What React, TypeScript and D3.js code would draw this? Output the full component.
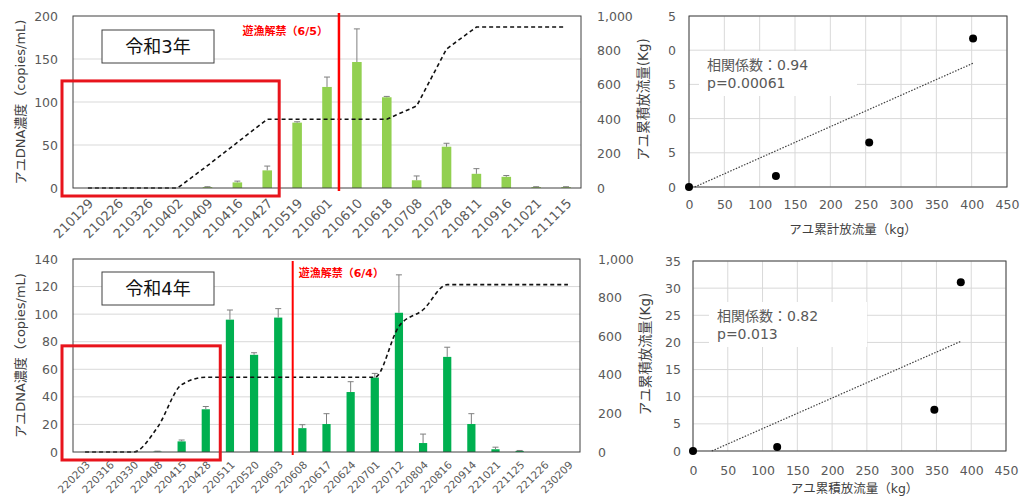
import React, { useRef, useEffect } from 'react';
import * as d3 from 'd3';

const FONT = '"DejaVu Sans", "Noto Sans CJK JP", sans-serif';
const TICK = '#595959';

// 令和3年
const r3Dates = ['210129', '210226', '210326', '210402', '210409', '210416', '210427', '210519', '210601',
  '210610', '210618', '210708', '210728', '210811', '210916', '211021', '211115'];
const r3Dna = [0, 0, 0, 0, 1, 6.5, 20.5, 76, 117.5, 146.5, 105.5, 9, 48, 16.5, 13, 1, 1];
const r3Err = [0, 0, 0, 0, 0.5, 1.5, 5, 1, 11.5, 38.5, 1, 5, 4, 6, 1.5, 0.5, 0.5];
const r3Release = [0, 0, 0, 0, 130, 265, 400, 400, 400, 400, 400, 477, 808, 936, 936, 936, 936];

// 令和4年
const r4Dates = ['220203', '220316', '220330', '220408', '220415', '220428', '220511', '220520', '220603',
  '220608', '220617', '220624', '220701', '220712', '220804', '220816', '220914', '221021', '221125',
  '221226', '230209'];
const r4Dna = [0, 0, 0, 0.3, 7.7, 31, 96, 70.5, 97.5, 17.3, 20.3, 43.5, 54, 101, 6.5, 69, 20.3, 2, 0.8, 0, 0];
const r4Err = [0, 0, 0, 0.3, 1, 2, 7, 1.5, 6.5, 2.5, 7.5, 7.5, 3, 27.5, 6.5, 7, 7.5, 1.5, 0.3, 0, 0];
const r4Release = [0, 0, 0, 128, 349, 387, 387, 387, 387, 387, 387, 387, 387, 651, 737, 867, 867, 867, 867, 867, 867];

const dnaTicks3 = [0, 50, 100, 150, 200];
const dnaTicks4 = [0, 20, 40, 60, 80, 100, 120, 140];
const releaseTicks = [0, 200, 400, 600, 800, 1000];

// 散布図
const s3X = [0, 123, 255, 402];
const s3Y = [0, 1.6, 6.5, 21.7];
const s3TrendX = [8, 402];
const s3TrendY = [0, 18.1];
const s4X = [0, 121, 347, 385];
const s4Y = [0, 0.75, 7.6, 31.1];
const s4TrendX = [27, 385];
const s4TrendY = [0, 20.2];
const scatterXTicks = [0, 50, 100, 150, 200, 250, 300, 350, 400, 450];
const scatterYTicks3 = [0, 5, 10, 15, 20, 25];
const scatterYTicks4 = [0, 5, 10, 15, 20, 25, 30, 35];

function drawCombo(svg: any, o: any) {
  const g = svg.append('g').attr('transform', `translate(${o.left},${o.top})`);
  const x = d3.scaleBand<string>().domain(o.dates).range([0, o.width]);
  const y = d3.scaleLinear().domain([0, o.dnaTicks[o.dnaTicks.length - 1]]).range([o.height, 0]);
  const y2 = d3.scaleLinear().domain([0, 1000]).range([o.height, 0]);
  const cx = (d: string) => (x(d) as number) + x.bandwidth() / 2;

  g.selectAll('.grid').data(o.dnaTicks.slice(1, -1)).enter().append('line')
    .attr('x1', 0).attr('x2', o.width)
    .attr('y1', (d: number) => y(d)).attr('y2', (d: number) => y(d))
    .attr('stroke', '#d9d9d9').attr('stroke-width', 1);

  const bw = x.bandwidth() * o.barRatio;
  g.selectAll('.bar').data(o.dates).enter().append('rect')
    .attr('x', (d: string) => cx(d) - bw / 2)
    .attr('y', (d: string, i: number) => y(o.dna[i]))
    .attr('width', bw)
    .attr('height', (d: string, i: number) => y(0) - y(o.dna[i]))
    .attr('fill', o.barColor);

  // エラーバー
  o.dates.forEach((d: string, i: number) => {
    if (!o.err[i]) return;
    const top = y(o.dna[i] + o.err[i]);
    g.append('line').attr('x1', cx(d)).attr('x2', cx(d))
      .attr('y1', y(o.dna[i])).attr('y2', top).attr('stroke', '#7f7f7f').attr('stroke-width', 1);
    g.append('line').attr('x1', cx(d) - 3).attr('x2', cx(d) + 3)
      .attr('y1', top).attr('y2', top).attr('stroke', '#7f7f7f').attr('stroke-width', 1);
  });

  const line = d3.line<number>()
    .x((d, i) => cx(o.dates[i]))
    .y(d => y2(d))
    .curve(o.curve);
  g.append('path').attr('d', line(o.release)).attr('fill', 'none')
    .attr('stroke', '#111').attr('stroke-width', 1.6).attr('stroke-dasharray', '4,3');

  g.append('rect').attr('x', 0).attr('y', 0).attr('width', o.width).attr('height', o.height)
    .attr('fill', 'none').attr('stroke', '#404040').attr('stroke-width', 1);

  const yAxis = g.append('g').call(d3.axisLeft(y).tickValues(o.dnaTicks).tickSize(0).tickPadding(15));
  yAxis.select('.domain').remove();
  yAxis.selectAll('text').attr('font-family', FONT).attr('font-size', 12.5).attr('fill', TICK);

  const y2Axis = g.append('g').attr('transform', `translate(${o.width},0)`)
    .call(d3.axisRight(y2).tickValues(releaseTicks).tickSize(0).tickPadding(o.rightPad).tickFormat(d3.format(',')));
  y2Axis.select('.domain').remove();
  y2Axis.selectAll('text').attr('font-family', FONT).attr('font-size', 12.5).attr('fill', TICK);

  g.selectAll('.xl').data(o.dates).enter().append('text')
    .attr('transform', (d: string) => `translate(${cx(d) + 3},${o.height + o.labelGap}) rotate(-45)`)
    .attr('text-anchor', 'end').attr('dy', '0.35em')
    .attr('font-family', FONT).attr('font-size', o.labelSize).attr('fill', TICK)
    .text((d: string) => d);

  g.append('text').attr('transform', `translate(${-o.left + 20},${o.height / 2}) rotate(-90)`)
    .attr('text-anchor', 'middle').attr('dy', '0.35em')
    .attr('font-family', FONT).attr('font-size', 13).attr('fill', '#404040')
    .text('アユDNA濃度（copies/mL)');

  // 遊漁解禁
  const i0 = o.dates.indexOf(o.openAfter);
  const ox = cx(o.dates[i0]) + x.step() * o.openFrac;
  g.append('line').attr('x1', ox).attr('x2', ox).attr('y1', o.openTop).attr('y2', o.height + 3)
    .attr('stroke', '#ff0000').attr('stroke-width', o.openWidth);
  g.append('text').attr('x', ox + o.openTextDx).attr('y', o.openTextY).attr('dy', '0.35em')
    .attr('text-anchor', o.openTextDx < 0 ? 'end' : 'start')
    .attr('font-family', FONT).attr('font-size', 11).attr('font-weight', 'bold').attr('fill', '#ff0000')
    .text(o.openText);

  // 放流期間の枠
  const hx = cx(o.highlightTo) + x.step() * o.highlightFrac;
  g.append('rect').attr('x', -11).attr('y', y(o.highlightTop))
    .attr('width', hx + 11).attr('height', o.height + 8 - y(o.highlightTop))
    .attr('fill', 'none').attr('stroke', '#e8141c').attr('stroke-width', 3);

  // 年度ラベル
  g.append('rect').attr('x', 29).attr('y', o.titleY).attr('width', 112).attr('height', 33)
    .attr('fill', '#fff').attr('stroke', '#404040').attr('stroke-width', 1);
  g.append('text').attr('x', 85).attr('y', o.titleY + 17).attr('dy', '0.35em').attr('text-anchor', 'middle')
    .attr('font-family', FONT).attr('font-size', 18).attr('fill', '#111').text(o.title);
}

function drawScatter(svg: any, o: any) {
  const g = svg.append('g').attr('transform', `translate(${o.left},${o.top})`);
  const x = d3.scaleLinear().domain([0, 450]).range([0, o.width]);
  const yMax = o.yTicks[o.yTicks.length - 1];
  const y = d3.scaleLinear().domain([0, yMax]).range([o.height, 0]);

  g.selectAll('.gx').data(scatterXTicks).enter().append('line')
    .attr('x1', (d: number) => x(d)).attr('x2', (d: number) => x(d)).attr('y1', 0).attr('y2', o.height)
    .attr('stroke', '#d9d9d9');
  g.selectAll('.gy').data(o.yTicks).enter().append('line')
    .attr('x1', 0).attr('x2', o.width).attr('y1', (d: number) => y(d)).attr('y2', (d: number) => y(d))
    .attr('stroke', '#d9d9d9');
  g.append('rect').attr('width', o.width).attr('height', o.height)
    .attr('fill', 'none').attr('stroke', '#404040').attr('stroke-width', 1);

  const trend = d3.line<number>().x(d => x(d)).y((d, i) => y(o.trendY[i]));
  g.append('path').attr('d', trend(o.trendX)).attr('fill', 'none')
    .attr('stroke', '#404040').attr('stroke-width', 1.2).attr('stroke-dasharray', '1.5,1.5');

  g.selectAll('.pt').data(o.xs).enter().append('circle')
    .attr('cx', (d: number) => x(d)).attr('cy', (d: number, i: number) => y(o.ys[i]))
    .attr('r', 4).attr('fill', '#000');

  // 相関係数
  g.append('rect').attr('x', o.noteX - 8).attr('y', o.noteY - 14).attr('width', 158).attr('height', 45)
    .attr('fill', '#fff');
  g.append('text').attr('x', o.noteX).attr('y', o.noteY).attr('dy', '0.35em')
    .attr('font-family', FONT).attr('font-size', 14).attr('fill', '#595959').text(o.note1);
  g.append('text').attr('x', o.noteX).attr('y', o.noteY + 18).attr('dy', '0.35em')
    .attr('font-family', FONT).attr('font-size', 14).attr('fill', '#595959').text(o.note2);

  const xAxis = g.append('g').attr('transform', `translate(0,${o.height})`)
    .call(d3.axisBottom(x).tickValues(scatterXTicks).tickSize(0).tickPadding(o.xPad));
  xAxis.select('.domain').remove();
  xAxis.selectAll('text').attr('font-family', FONT).attr('font-size', 12.5).attr('fill', TICK);

  const yAxis = g.append('g').call(d3.axisLeft(y).tickValues(o.yTicks).tickSize(0).tickPadding(o.yPad));
  yAxis.select('.domain').remove();
  yAxis.selectAll('text').attr('font-family', FONT).attr('font-size', 12.5).attr('fill', TICK);
  if (o.clipId) yAxis.attr('clip-path', `url(#${o.clipId})`);

  g.append('text').attr('x', o.width / 2 + 5).attr('y', o.height + o.xTitleGap).attr('dy', '0.35em')
    .attr('text-anchor', 'middle').attr('font-family', FONT).attr('font-size', 12.5).attr('fill', '#404040')
    .text(o.xTitle);
  g.append('text').attr('transform', `translate(${o.yTitleX},${o.height / 2 - 2}) rotate(-90)`)
    .attr('text-anchor', 'middle').attr('dy', '0.35em')
    .attr('font-family', FONT).attr('font-size', 13.5).attr('fill', '#404040')
    .text('アユ累積放流量(Kg)');
}

export default function App() {
  const svgRef = useRef<SVGSVGElement>(null);

  useEffect(() => {
    if (!svgRef.current) return;
    const svg = d3.select(svgRef.current);
    svg.selectAll('*').remove();

    svg.append('rect').attr('width', 1020).attr('height', 497).attr('fill', '#fff');
    // 上の散布図の目盛は左側が切れている
    svg.append('defs').append('clipPath').attr('id', 'clipTop')
      .append('rect').attr('x', -20.5).attr('y', -10).attr('width', 40).attr('height', 200);

    drawCombo(svg, {
      left: 73, top: 16, width: 508, height: 172,
      dates: r3Dates, dna: r3Dna, err: r3Err, release: r3Release,
      dnaTicks: dnaTicks3, barColor: '#92d050', barRatio: 0.32, curve: d3.curveLinear,
      rightPad: 16, labelGap: 13, labelSize: 13,
      openAfter: '210601', openFrac: 0.4, openTop: -3, openWidth: 2.5,
      openText: '遊漁解禁（6/5）', openTextDx: -11, openTextY: 15,
      highlightTo: '210427', highlightFrac: 0.4, highlightTop: 124.5,
      title: '令和3年', titleY: 14,
    });

    drawCombo(svg, {
      left: 73, top: 259, width: 507, height: 193,
      dates: r4Dates, dna: r4Dna, err: r4Err, release: r4Release,
      dnaTicks: dnaTicks4, barColor: '#00b050', barRatio: 0.34, curve: d3.curveMonotoneX,
      rightPad: 18, labelGap: 11, labelSize: 10.5,
      openAfter: '220603', openFrac: 0.6, openTop: 2, openWidth: 2,
      openText: '遊漁解禁（6/4）', openTextDx: 6, openTextY: 14,
      highlightTo: '220428', highlightFrac: 0.6, highlightTop: 77,
      title: '令和4年', titleY: 13,
    });

    drawScatter(svg, {
      left: 689, top: 16, width: 318, height: 171,
      xs: s3X, ys: s3Y, trendX: s3TrendX, trendY: s3TrendY, yTicks: scatterYTicks3,
      note1: '相関係数：0.94', note2: 'p=0.00061', noteX: 18, noteY: 49,
      xPad: 13, yPad: 13, xTitleGap: 43, xTitle: 'アユ累計放流量（kg）', yTitleX: -46,
      clipId: 'clipTop',
    });

    drawScatter(svg, {
      left: 693, top: 261, width: 313, height: 190,
      xs: s4X, ys: s4Y, trendX: s4TrendX, trendY: s4TrendY, yTicks: scatterYTicks4,
      note1: '相関係数：0.82', note2: 'p=0.013', noteX: 24, noteY: 55,
      xPad: 15, yPad: 12, xTitleGap: 38, xTitle: 'アユ累積放流量（kg）', yTitleX: -48,
    });
  }, []);

  return (
    <svg ref={svgRef} width={1020} height={497}
      style={{ position: 'absolute', left: 0, top: 0, display: 'block' }} />
  );
}
